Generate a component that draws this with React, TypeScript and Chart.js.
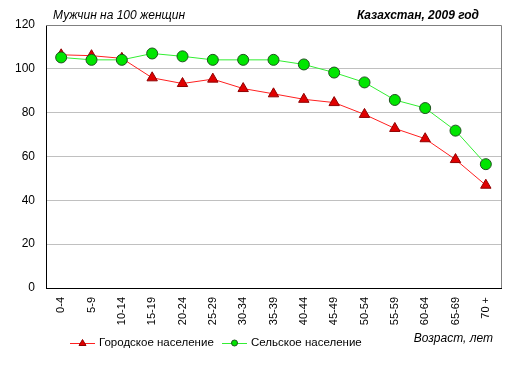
import React, { useEffect, useRef } from "react";
import { Chart, registerables } from "chart.js";

Chart.register(...registerables);

const categories = ["0-4", "5-9", "10-14", "15-19", "20-24", "25-29", "30-34", "35-39", "40-44", "45-49", "50-54", "55-59", "60-64", "65-69", "70 +"];
const urban = [106.4, 106.0, 104.8, 95.9, 93.3, 95.3, 91.0, 88.6, 86.1, 84.6, 79.2, 72.8, 68.1, 58.6, 46.9];
const rural = [105.2, 104.1, 104.1, 107.0, 105.7, 104.1, 104.1, 104.1, 102.0, 98.3, 93.8, 85.8, 82.1, 71.8, 56.5];
const yTicks = [0, 20, 40, 60, 80, 100, 120];
const seriesNames = ["Городское население", "Сельское население"];
const titleLeft = "Мужчин на 100 женщин";
const titleRight = "Казахстан, 2009 год";
const xAxisTitle = "Возраст, лет";

const FONT = "'Liberation Sans', Arial, sans-serif";

const textPlugin = {
  id: "texts",
  afterDraw(chart: any) {
    const ctx = chart.ctx;
    const area = chart.chartArea;
    ctx.save();
    // top/right border
    ctx.strokeStyle = "#808080";
    ctx.lineWidth = 1;
    ctx.beginPath();
    ctx.moveTo(area.left, area.top + 0.5);
    ctx.lineTo(area.right + 0.5, area.top + 0.5);
    ctx.lineTo(area.right + 0.5, area.bottom);
    ctx.stroke();

    ctx.fillStyle = "#000";
    ctx.textBaseline = "middle";
    ctx.font = `italic 12px ${FONT}`;
    ctx.textAlign = "left";
    ctx.fillText(titleLeft, 53, 16);
    ctx.font = `italic bold 12px ${FONT}`;
    ctx.textAlign = "right";
    ctx.fillText(titleRight, 479, 16);
    ctx.font = `italic 12px ${FONT}`;
    ctx.textAlign = "right";
    ctx.fillText(xAxisTitle, 493, 339);

    // legend
    const ly = 343;
    const items = chart.data.datasets;
    const xs = [70, 222];
    items.forEach((ds: any, i: number) => {
      const x0 = xs[i];
      ctx.strokeStyle = ds.borderColor;
      ctx.lineWidth = 1;
      ctx.beginPath();
      ctx.moveTo(x0, ly + 0.5);
      ctx.lineTo(x0 + 25, ly + 0.5);
      ctx.stroke();
      const cx = x0 + 12.5;
      ctx.fillStyle = ds.pointBackgroundColor;
      ctx.strokeStyle = ds.pointBorderColor;
      ctx.beginPath();
      if (ds.pointStyle === "triangle") {
        ctx.moveTo(cx, ly - 3.5);
        ctx.lineTo(cx + 3.5, ly + 2.5);
        ctx.lineTo(cx - 3.5, ly + 2.5);
        ctx.closePath();
      } else {
        ctx.arc(cx, ly, 3, 0, Math.PI * 2);
      }
      ctx.fill();
      ctx.stroke();
      ctx.fillStyle = "#000";
      ctx.font = `11.5px ${FONT}`;
      ctx.textAlign = "left";
      ctx.fillText(ds.label, x0 + 29, ly);
    });
    ctx.restore();
  },
};

export default function App() {
  const ref = useRef<HTMLCanvasElement>(null);
  useEffect(() => {
    if (!ref.current) return;
    const chart = new Chart(ref.current, {
      type: "line",
      data: {
        labels: categories,
        datasets: [
          {
            label: seriesNames[0],
            data: urban,
            order: 1,
            borderColor: "#ff2020",
            borderWidth: 1,
            pointStyle: "triangle",
            pointRadius: 6,
            pointBackgroundColor: "#e00000",
            pointBorderColor: "#900000",
            pointBorderWidth: 1,
            tension: 0,
          },
          {
            label: seriesNames[1],
            data: rural,
            order: 0,
            borderColor: "#33ee33",
            borderWidth: 1,
            pointStyle: "circle",
            pointRadius: 5.5,
            pointBackgroundColor: "#00e600",
            pointBorderColor: "#205020",
            pointBorderWidth: 1,
            tension: 0,
          },
        ],
      },
      options: {
        responsive: false,
        animation: false,
        devicePixelRatio: 1,
        layout: { padding: { left: 0, top: 25, right: 17, bottom: 0 } },
        plugins: { legend: { display: false }, tooltip: { enabled: false }, title: { display: false } },
        scales: {
          x: {
            offset: true,
            grid: { display: false, drawTicks: false },
            border: { display: true, color: "#000", width: 1 },
            ticks: {
              minRotation: 90,
              maxRotation: 90,
              padding: 9,
              color: "#000",
              font: { family: FONT, size: 11 },
              autoSkip: false,
            },
            afterFit(scale: any) {
              scale.height = 84;
            },
          },
          y: {
            min: 0,
            max: 120,
            afterBuildTicks(scale: any) {
              scale.ticks = yTicks.map((v) => ({ value: v }));
            },
            grid: { color: "#c0c0c0", drawTicks: false, lineWidth: 1 },
            border: { display: true, color: "#000", width: 1 },
            ticks: {
              padding: 11,
              color: "#000",
              font: { family: FONT, size: 12 },
            },
            afterFit(scale: any) {
              scale.width = 46;
            },
          },
        },
      },
      plugins: [textPlugin],
    });
    return () => chart.destroy();
  }, []);
  return (
    <div style={{ position: "fixed", left: 0, top: 0, width: 518, height: 372, background: "#fff" }}>
      <canvas ref={ref} width={518} height={372} style={{ width: 518, height: 372 }} />
    </div>
  );
}
